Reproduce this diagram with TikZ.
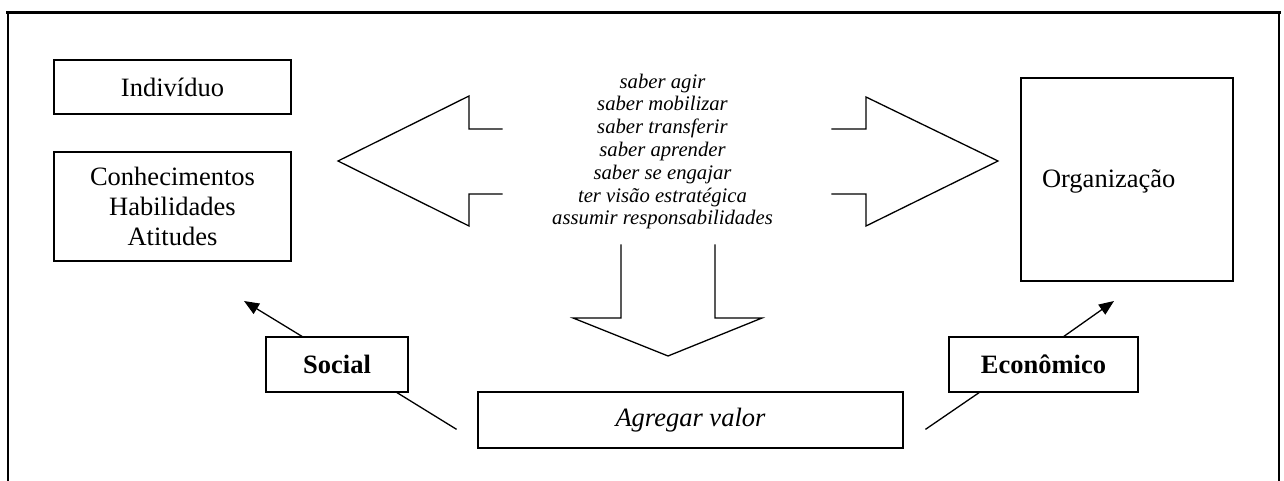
\documentclass[tikz,border=0pt]{standalone}
\usepackage{fontspec}
\setmainfont{Liberation Serif}
\usetikzlibrary{arrows.meta}
\begin{document}
\begin{tikzpicture}[x=1pt,y=-1pt,
  every node/.style={inner sep=0pt, outer sep=0pt},
  ln/.style={line width=1.3pt, line cap=rect, line join=miter},
  box/.style={draw, line width=1.3pt, rectangle},
  bigtxt/.style={font=\fontsize{26.5}{30}\selectfont},
  listtxt/.style={font=\fontsize{20.7}{22.8}\selectfont\itshape, align=center},
  arr/.style={ln, -{Triangle[length=15pt,width=12pt]}}
]
\useasboundingbox (0,0) rectangle (1284,481);
% frame
\draw[line width=1.4pt] (8,481) -- (8,13) -- (1279,13) -- (1279,481);
\draw[line width=3pt] (6,13) -- (1281,13);

% left boxes
\node[box, bigtxt, minimum width=237pt, minimum height=54pt] (ind) at (172.5,87) {Indivíduo};
\node[box, bigtxt, align=center, minimum width=237pt, minimum height=109pt] (cha) at (172.5,206.5) {Conhecimentos\\Habilidades\\Atitudes};

% right box
\node[box, minimum width=212pt, minimum height=203pt] (org) at (1127,179.5) {};
\node[bigtxt, anchor=base west] (orgtxt) at (1042,187) {Organização};

% centre list
\node[listtxt] (list) at (662.5,151.5) {saber agir\\saber mobilizar\\saber transferir\\saber aprender\\saber se engajar\\ter visão estratégica\\assumir responsabilidades};

% block arrows
\draw[ln] (502,129) -- (469,129) -- (469,96) -- (338,161) -- (469,226) -- (469,194) -- (502,194);
\draw[ln] (832,129) -- (866,129) -- (866,97) -- (998,161) -- (866,226) -- (866,194) -- (832,194);
\draw[ln] (621,245) -- (621,318) -- (573,318) -- (668,356) -- (762,318) -- (715,318) -- (715,245);

% bottom boxes
\node[box, font=\fontsize{26.5}{30}\selectfont\bfseries, minimum width=142pt, minimum height=55pt] (soc) at (337,364.5) {Social};
\node[box, font=\fontsize{26.5}{30}\selectfont\bfseries, minimum width=189pt, minimum height=55pt] (eco) at (1043.5,364.5) {Econômico};
\node[box, font=\fontsize{26.5}{30}\selectfont\itshape, minimum width=425pt, minimum height=56pt] (agr) at (690.5,420) {Agregar valor};

% connectors
\coordinate (sl) at (456,429);
\coordinate (el) at (926,429);
\coordinate (st) at (244,301);
\coordinate (et) at (1114,301);
\draw[ln] (sl) -- ([xshift=-12pt]soc.south east);
\draw[arr] ([xshift=-34pt]soc.north) -- (st);
\draw[ln] (el) -- ([xshift=31pt]eco.south west);
\draw[arr] ([xshift=114pt]eco.north west) -- (et);
\end{tikzpicture}
\end{document}
